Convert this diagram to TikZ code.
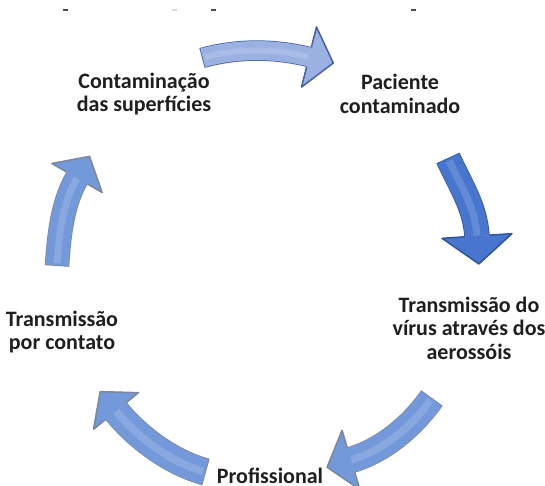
\documentclass[tikz,border=0pt]{standalone}
\usepackage{fontspec}
\setmainfont{Carlito}
\usetikzlibrary{calc}
\definecolor{aoneF}{HTML}{9BB1E2}
\definecolor{aoneD}{HTML}{4460AA}
\definecolor{atwoF}{HTML}{4876CE}
\definecolor{atwoD}{HTML}{2D5597}
\definecolor{amidF}{HTML}{7399DA}
\definecolor{amidD}{HTML}{7C8799}
\tikzset{lbl/.style={font=\bfseries\fontsize{22}{23.5}\selectfont, align=center, text=black!88, inner sep=0pt}}
\newcommand\cycarrow[9]{%
  \coordinate (aT) at (#1);
  \coordinate (aA) at (#2);
  \coordinate (aB) at (#3);
  \coordinate (aH) at (#4);
  \pgfmathsetmacro\outw{#5+1.5}%
  \pgfmathsetmacro\hlw{#5*0.3}%
  \pgfmathsetmacro\halfw{#5/2+0.4}%
  \draw[draw=#9, line width=\outw pt] (aT) .. controls (aA) and (aB) .. (aH);
  \draw[draw=#8, line width=#5pt, shorten <=0.8pt] (aT) .. controls (aA) and (aB) .. (aH);
  \draw[draw=#8!50!white, line width=\hlw pt, shorten <=3pt, opacity=.3] (aT) .. controls (aA) and (aB) .. (aH);
  \coordinate (aP) at ($(aH)!#6pt!90:(aB)$);
  \coordinate (aQ) at ($(aH)!#6pt!-90:(aB)$);
  \coordinate (aX) at ($(aH)!#7pt!180:(aB)$);
  \coordinate (aE) at ($(aH)!\halfw pt!90:(aB)$);
  \coordinate (aF) at ($(aH)!\halfw pt!-90:(aB)$);
  \filldraw[fill=#8, draw=#8, line width=0.4pt] (aP) -- (aX) -- (aQ) -- cycle;
  \draw[#9, line width=1.5pt, line join=round] (aE) -- (aP) -- (aX) -- (aQ) -- (aF);
}
\begin{document}
\begin{tikzpicture}[x=1pt,y=-1pt]
\useasboundingbox[fill=white] (0,0) rectangle (545,486);
% faint cropped marks at top
\fill[black!70] (63,9) rectangle (68,11);
\fill[black!70] (211,9) rectangle (216,11);
\fill[black!70] (411,9) rectangle (416,11);
\fill[black!15] (172,9) rectangle (177,11);
% arrows
\cycarrow{202,58}{238,48}{275,48.6}{309,57}{19}{31}{25}{aoneF}{aoneD}
\cycarrow{448,158}{460,185}{475,206}{477,236}{24}{35}{28}{atwoF}{atwoD}
\cycarrow{432,398}{412,426}{384,450}{351,460}{25}{31}{25}{amidF}{amidD}
\cycarrow{206,472}{172,463}{138,438}{116,411}{26}{29}{25}{amidF}{amidD}
\cycarrow{57,266}{59,236}{62,204}{77,178}{23}{29}{25}{amidF}{amidD}
% labels
\node[lbl] (sup) at (144,94) {Contaminação\\das superfícies};
\node[lbl] (pac) at (400,94) {Paciente\\contaminado};
\node[lbl] (aer) at (469,328) {Transmissão do\\vírus através dos\\aerossóis};
\node[lbl] (con) at (62,332) {Transmissão\\por contato};
\node[lbl, anchor=base] (pro) at (270,483) {Profissional};
\end{tikzpicture}
\end{document}
